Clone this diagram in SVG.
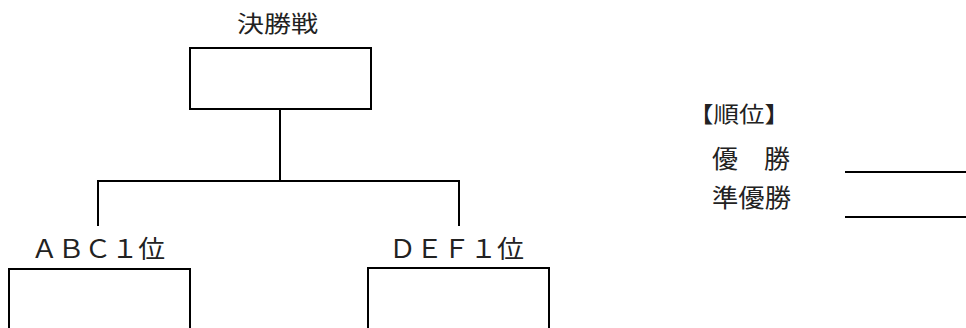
<svg xmlns="http://www.w3.org/2000/svg" width="966" height="328" viewBox="0 0 966 328">
<style>
.box{fill:none;stroke:#000;stroke-width:2}
.ln{fill:none;stroke:#000;stroke-width:2}
text{font-family:"Noto Sans CJK JP","Noto Sans CJK SC",sans-serif;fill:#222}
</style>
<rect width="966" height="328" fill="#fff"/>
<g id="final">
<text x="237" y="31.5" font-size="23" textLength="81" lengthAdjust="spacingAndGlyphs">決勝戦</text>
<rect class="box" x="190" y="48" width="181" height="61"/>
</g>
<g id="abc">
<text x="31" y="258" font-size="25" textLength="134" lengthAdjust="spacingAndGlyphs">ＡＢＣ１位</text>
<rect class="box" x="9" y="269" width="181" height="80"/>
</g>
<g id="def">
<text x="389" y="258" font-size="25" textLength="135" lengthAdjust="spacingAndGlyphs">ＤＥＦ１位</text>
<rect class="box" x="368" y="268" width="181" height="80"/>
</g>
<g id="connectors">
<path class="ln" d="M280 109V181M98 181H459M98 180V226M459 180V226"/>
</g>
<g id="ranking">
<text x="688" y="121.5" font-size="22" textLength="102" lengthAdjust="spacingAndGlyphs">【順位】</text>
<text x="712" y="168" font-size="25" textLength="78" lengthAdjust="spacingAndGlyphs">優　勝</text>
<text x="712" y="207" font-size="25" textLength="79" lengthAdjust="spacingAndGlyphs">準優勝</text>
<path class="ln" d="M845 172H966M845 217H966"/>
</g>
</svg>
